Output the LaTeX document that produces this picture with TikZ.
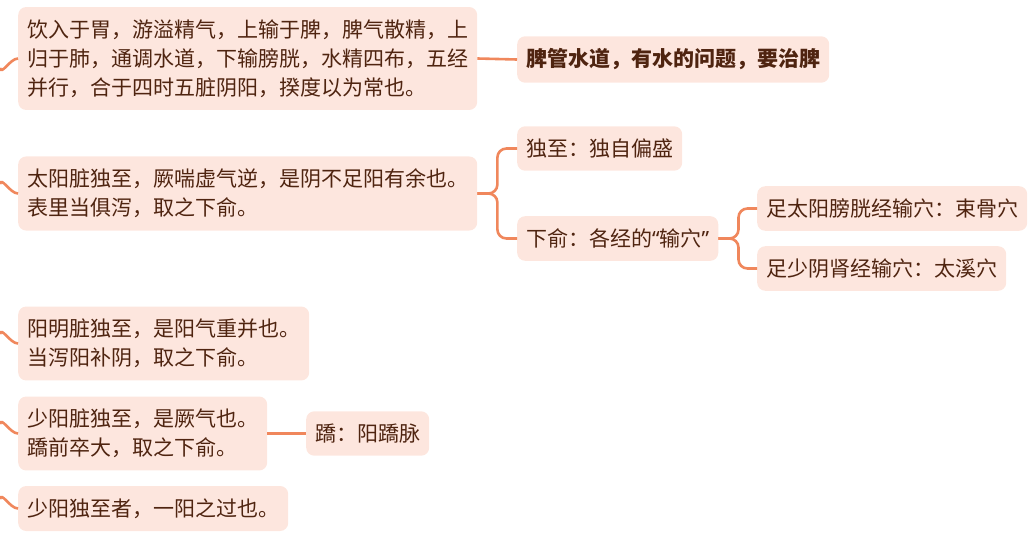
\documentclass[tikz,border=0pt]{standalone}
\usepackage{fontspec}
\newfontfamily\cjk{Noto Sans CJK SC}
\newfontfamily\latin{Noto Sans}
\definecolor{hoja}{HTML}{FDE6DE}
\definecolor{rama}{HTML}{F0875C}
\definecolor{tinta}{HTML}{4F2410}
\begin{document}
\begin{tikzpicture}[x=1pt,y=-1pt,
  every node/.style={anchor=west,rounded corners=8pt,fill=hoja,text=tinta,
    font=\cjk\fontsize{21}{29}\selectfont,align=left,
    inner xsep=9pt,inner ysep=12.5pt},
  enlace/.style={draw=rama,line width=2.6pt,rounded corners=9pt}]
  \useasboundingbox (0,0) rectangle (1035,538);
  \clip (0,0) rectangle (1035,538);

  % 左侧一列
  \node (n1) at (18,58.5) {饮入于胃，游溢精气，上输于脾，脾气散精，上\\归于肺，通调水道，下输膀胱，水精四布，五经\\并行，合于四时五脏阴阳，揆度以为常也。};
  \node (n2) at (18,193.5) {太阳脏独至，厥喘虚气逆，是阴不足阳有余也。\\表里当俱泻，取之下俞。};
  \node (n3) at (18,343.5) {阳明脏独至，是阳气重并也。\\当泻阳补阴，取之下俞。};
  \node (n4) at (18,433.5) {少阳脏独至，是厥气也。\\蹻前卒大，取之下俞。};
  \node (n5) at (18,508.5) {少阳独至者，一阳之过也。};

  % 右侧分支
  \node[font=\cjk\bfseries\fontsize{21}{29}\selectfont] (n1a) at (517,59.5) {脾管水道，有水的问题，要治脾};
  \node (n2a) at (517,148.5) {独至：独自偏盛};
  \node (n2b) at (517,238.5) {下俞：各经的{\latin“}输穴{\latin”}};
  \node (n2b1) at (757,208.5) {足太阳膀胱经输穴：束骨穴};
  \node (n2b2) at (757,268.5) {足少阴肾经输穴：太溪穴};
  \node (n4a) at (306,433.5) {蹻：阳蹻脉};

  % 从左边进来的线
  \coordinate (r1) at (0,68);
  \coordinate (r2) at (0,184);
  \coordinate (r3) at (0,334);
  \coordinate (r4) at (0,424);
  \coordinate (r5) at (0,499);
  \draw[enlace] (r1) to[out=-80,in=180] (n1.west);
  \foreach \k in {2,3,4,5}
    \draw[enlace] (r\k) to[out=80,in=180] (n\k.west);

  % 节点之间的连线
  \draw[enlace] (n1.east) -- (n1a.west);
  \draw[enlace] (n4.east) -- (n4a.west);
  \foreach \from/\to in {n2/n2a, n2/n2b}
    \draw[enlace] (\from.east) -- ++(20,0) |- (\to.west);
  \foreach \from/\to in {n2b/n2b1, n2b/n2b2}
    \draw[enlace] (\from.east) -- ++(20,0) |- (\to.west);
\end{tikzpicture}
\end{document}
